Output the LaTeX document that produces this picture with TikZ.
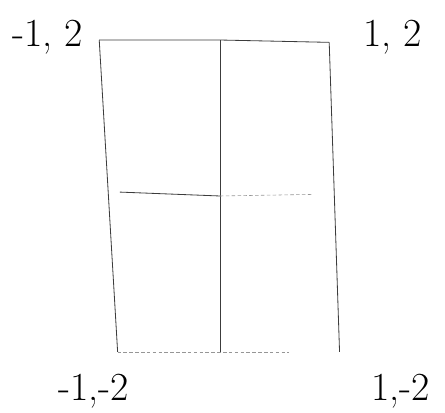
\documentclass[tikz,border=0pt]{standalone}
\usepackage{xcolor}
\usepackage{tikz}
\usetikzlibrary{positioning}
\definecolor{mypencil}{RGB}{60,60,60}
\definecolor{myfaint}{RGB}{150,150,150}
\tikzset{
  edge/.style={line width=0.7pt, color=mypencil},
  faintedge/.style={line width=0.5pt, color=myfaint, dash pattern=on 3pt off 2pt},
  corner/.style={font=\fontsize{34}{34}\selectfont, color=black}
}

\begin{document}
\begin{tikzpicture}[x=3.45cm, y=2.34cm]
  \useasboundingbox (-1.913,2.513) rectangle (1.957,-2.782);

  % corners of the rectangle
  \coordinate (tl) at (-1.05,2);
  \coordinate (tm) at (0,2);
  \coordinate (tr) at (0.95,1.97);
  \coordinate (ml) at (-0.87,0.05);
  \coordinate (mm) at (0,0);
  \coordinate (mr) at (0.8,0.02);
  \coordinate (bl) at (-0.89,-2);
  \coordinate (bm) at (0,-2);
  \coordinate (br) at (1.04,-2);

  % labels
  \node[corner] (ltop) at (-1.5,2.03) {-1, 2};
  \node[corner] (rtop) at (1.5,2.03) {1, 2};
  \node[corner] (lbot) at (-1.1,-2.5) {-1,-2};
  \node[corner] (rbot) at (1.57,-2.5) {1,-2};

  % outline
  \draw[edge] (tl) -- (tm) -- (tr);
  \draw[edge] (tl) -- (bl);
  \draw[edge] (tm) -- (bm);
  \draw[edge] (tr) -- (br);
  \draw[faintedge] (bl) -- (bm) -- (0.6,-2);

  % middle line
  \draw[edge] (ml) -- (mm);
  \draw[faintedge] (mm) -- (mr);
\end{tikzpicture}
\end{document}
